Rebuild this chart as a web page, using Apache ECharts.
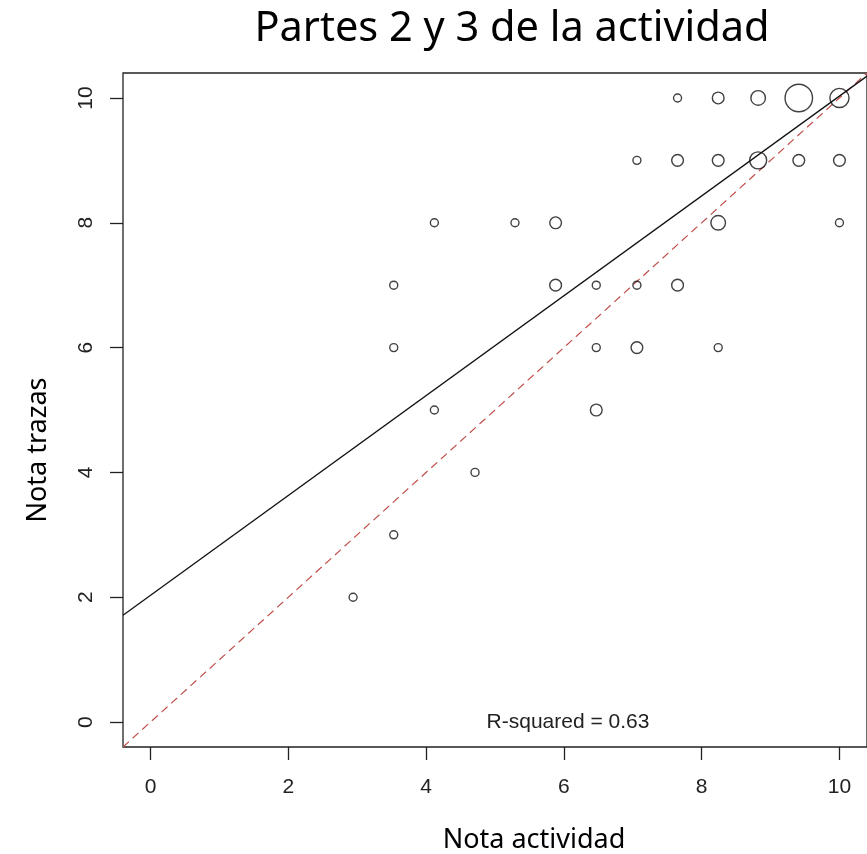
<!DOCTYPE html>
<html>
<head>
<meta charset="utf-8">
<title>Partes 2 y 3 de la actividad</title>
<script src="https://cdn.jsdelivr.net/npm/echarts@6/dist/echarts.min.js"></script>
<style>
  html, body { margin: 0; padding: 0; background: #fff; }
  #chart { width: 867px; height: 854px; }
</style>
</head>
<body>
<div id="chart"></div>
<script>
// puntos (nota actividad, nota trazas) y cuantos alumnos caen en cada uno
const notaActividad = [7.65, 8.24, 8.82, 9.41, 10, 7.06, 7.65, 8.24, 8.82, 9.41, 10, 4.12, 5.29, 5.88, 8.24, 10, 3.53, 5.88, 6.47, 7.06, 7.65, 3.53, 6.47, 7.06, 8.24, 4.12, 6.47, 4.71, 3.53, 2.94]
const notaTrazas = [10, 10, 10, 10, 10, 9, 9, 9, 9, 9, 9, 8, 8, 8, 8, 8, 7, 7, 7, 7, 7, 6, 6, 6, 6, 5, 5, 4, 3, 2]
const frecuencia = [1, 2, 3, 10, 5, 1, 2, 2, 4, 2, 2, 1, 1, 2, 3, 1, 1, 2, 1, 1, 2, 1, 1, 2, 1, 1, 2, 1, 1, 1]

// recta de regresion (extremos del recuadro)
const ajusteX = [-0.4, 10.4]
const ajusteY = [1.71, 10.35]

// linea identidad y = x
const identidad = [-0.4, 10.4]

const ticks = [0, 2, 4, 6, 8, 10]
const rCuadrado = 0.63

let chart = echarts.init(document.getElementById('chart'), null, { renderer: 'canvas' })

const tickFont = {
  color: '#222',
  fontFamily: 'Liberation Sans',
  fontSize: 21,
}

let option = {
  animation: false,
  backgroundColor: '#fff',
  grid: {
    left: 123,
    top: 73,
    right: -11,
    bottom: 107,
    show: true,
    borderColor: '#222',
    borderWidth: 1.3,
    backgroundColor: 'transparent',
  },
  xAxis: {
    type: 'value',
    min: -0.4,
    max: 10.4,
    splitLine: { show: false },
    axisLine: { show: false, onZero: false },
    axisTick: {
      show: true,
      customValues: ticks,
      length: 13,
      lineStyle: { color: '#222', width: 1.3 },
    },
    axisLabel: {
      ...tickFont,
      customValues: ticks,
      margin: 30,
    },
  },
  yAxis: {
    type: 'value',
    min: -0.4,
    max: 10.4,
    splitLine: { show: false },
    axisLine: { show: false, onZero: false },
    axisTick: {
      show: true,
      customValues: ticks,
      length: 13,
      lineStyle: { color: '#222', width: 1.3 },
    },
    axisLabel: {
      ...tickFont,
      customValues: ticks,
      rotate: 90,
      margin: 26,
    },
  },
  series: [
    {
      name: 'identidad',
      type: 'line',
      data: identidad.map((v) => [v, v]),
      showSymbol: false,
      symbol: 'none',
      lineStyle: { color: '#c0504d', width: 1.2, type: [8, 5] },
      z: 2,
    },
    {
      name: 'ajuste',
      type: 'line',
      data: ajusteX.map((x, i) => [x, ajusteY[i]]),
      showSymbol: false,
      symbol: 'none',
      lineStyle: { color: '#111', width: 1.3 },
      z: 3,
    },
    {
      name: 'alumnos',
      type: 'scatter',
      data: notaActividad.map((x, i) => [x, notaTrazas[i], frecuencia[i]]),
      symbol: 'circle',
      symbolSize: (val) => 9 * Math.sqrt(val[2]) - 1,
      itemStyle: {
        color: 'transparent',
        borderColor: '#111',
        borderWidth: 1.4,
      },
      z: 4,
    },
  ],
  graphic: [
    {
      type: 'text',
      x: 512,
      y: 29,
      style: {
        text: 'Partes 2 y 3 de la actividad',
        fontFamily: 'Noto Sans',
        fontSize: 41.5,
        fill: '#000',
        textAlign: 'center',
        textVerticalAlign: 'middle',
      },
    },
    {
      type: 'text',
      x: 534,
      y: 840,
      style: {
        text: 'Nota actividad',
        fontFamily: 'Noto Sans',
        fontSize: 27,
        fill: '#000',
        textAlign: 'center',
        textVerticalAlign: 'middle',
      },
    },
    {
      type: 'text',
      x: 38,
      y: 450,
      rotation: Math.PI / 2,
      style: {
        text: 'Nota trazas',
        fontFamily: 'Noto Sans',
        fontSize: 27,
        fill: '#000',
        textAlign: 'center',
        textVerticalAlign: 'middle',
      },
    },
    {
      type: 'text',
      x: 568,
      y: 722,
      style: {
        text: 'R-squared = ' + rCuadrado.toFixed(2),
        fontFamily: 'Liberation Sans',
        fontSize: 21,
        fill: '#222',
        textAlign: 'center',
        textVerticalAlign: 'middle',
      },
    },
  ],
}

chart.setOption(option)
</script>
</body>
</html>
